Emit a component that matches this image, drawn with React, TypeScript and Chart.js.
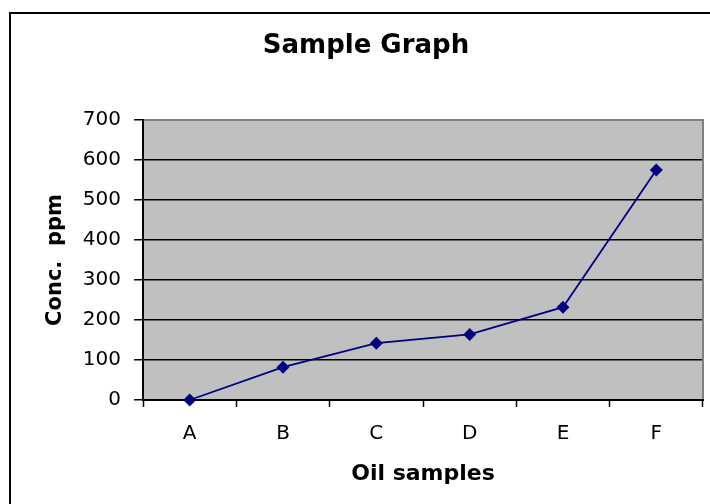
import React, { useEffect, useRef } from "react";
import { Chart, registerables } from "chart.js";

Chart.register(...registerables);

const categories = ["A", "B", "C", "D", "E", "F"];
const concValues = [0, 82, 142, 164, 232, 575];
const yMin = 0;
const yMax = 700;
const yStep = 100;
const chartTitle = "Sample Graph";
const xTitle = "Oil samples";
const yTitle = "Conc.  ppm";

const FONT = "'DejaVu Sans', sans-serif";

const decorPlugin = {
  id: "decor",
  beforeDraw(chart: any) {
    const { ctx, chartArea, width, height } = chart;
    ctx.save();
    ctx.fillStyle = "#ffffff";
    ctx.fillRect(0, 0, width, height);
    // frame
    ctx.strokeStyle = "#000000";
    ctx.lineWidth = 2;
    ctx.beginPath();
    ctx.moveTo(10, height + 2);
    ctx.lineTo(10, 13);
    ctx.lineTo(width + 2, 13);
    ctx.stroke();
    // plot background
    ctx.fillStyle = "#C0C0C0";
    ctx.fillRect(chartArea.left, chartArea.top, chartArea.right - chartArea.left, chartArea.bottom - chartArea.top);
    ctx.restore();
  },
  afterDatasetsDraw(chart: any) {
    const { ctx, chartArea } = chart;
    ctx.save();
    ctx.strokeStyle = "#808080";
    ctx.lineWidth = 2;
    ctx.beginPath();
    ctx.moveTo(chartArea.left + 1, chartArea.top);
    ctx.lineTo(chartArea.right, chartArea.top);
    ctx.lineTo(chartArea.right, chartArea.bottom - 1);
    ctx.stroke();
    ctx.restore();
  },
};

export default function App() {
  const ref = useRef<HTMLCanvasElement>(null);
  useEffect(() => {
    if (!ref.current) return;
    const chart = new Chart(ref.current, {
      type: "line",
      data: {
        labels: categories,
        datasets: [
          {
            data: concValues,
            borderColor: "#000080",
            backgroundColor: "#000080",
            borderWidth: 1.8,
            pointStyle: "rectRot",
            pointRadius: 6.5,
            pointBorderWidth: 0,
            pointBackgroundColor: "#000080",
            tension: 0,
            clip: false as any,
          },
        ],
      },
      plugins: [decorPlugin],
      options: {
        animation: false,
        responsive: false,
        events: [],
        layout: { padding: { left: 29, right: 7, top: 0, bottom: 0 } },
        plugins: {
          legend: { display: false },
          tooltip: { enabled: false },
          title: {
            display: true,
            text: chartTitle,
            color: "#000000",
            font: { family: FONT, size: 26, weight: "bold", lineHeight: 1.2 },
            padding: { top: 31, bottom: 57.8 },
          },
        },
        scales: {
          x: {
            type: "category",
            offset: true,
            afterFit(scale: any) {
              scale.height = 104;
            },
            grid: {
              offset: true,
              drawOnChartArea: false,
              drawTicks: true,
              tickLength: 7,
              tickColor: "#000000",
              tickWidth: 1.5,
            },
            border: { display: true, color: "#000000", width: 2 },
            ticks: {
              color: "#000000",
              font: { family: FONT, size: 20 },
              padding: 15,
              maxRotation: 0,
            },
            title: {
              display: true,
              text: xTitle,
              color: "#000000",
              font: { family: FONT, size: 22, weight: "bold" },
              padding: { top: 0, bottom: 17 },
            },
          },
          y: {
            min: yMin,
            max: yMax,
            afterFit(scale: any) {
              scale.width = 114;
            },
            grid: {
              color: (c: any) => (c.tick && c.tick.value === yMax ? "#808080" : "#000000"),
              lineWidth: 1.5,
              drawTicks: true,
              tickLength: 9,
              tickColor: "#000000",
              tickWidth: 1.5,
            },
            border: { display: true, color: "#000000", width: 2 },
            ticks: {
              stepSize: yStep,
              color: "#000000",
              font: { family: FONT, size: 20 },
              padding: 13,
            },
            title: {
              display: true,
              text: yTitle,
              color: "#000000",
              font: { family: FONT, size: 21, weight: "bold" },
              padding: { top: 14, bottom: 0 },
            },
          },
        },
      },
    });
    return () => chart.destroy();
  }, []);
  return (
    <canvas
      ref={ref}
      width={710}
      height={504}
      style={{ position: "absolute", left: 0, top: 0, width: 710, height: 504 }}
    />
  );
}
